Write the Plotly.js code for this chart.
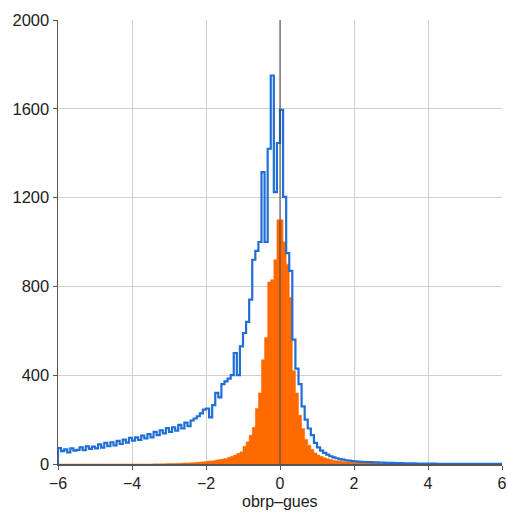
<!DOCTYPE html>
<html>
<head>
<meta charset="utf-8">
<script src="https://cdn.plot.ly/plotly-3.0.1.min.js"></script>
<style>html,body{margin:0;padding:0;background:#fff;}#chart{width:507px;height:512px;}</style>
</head>
<body>
<div id="chart"></div>
<script>
// Histogram bins: 12 bins per unit from -6 to 6
var binStart = -6;
var binsPerUnit = 12;

// Blue outline histogram (counts per bin), one row per unit interval
var blueCounts = [].concat(
  [72, 58, 66, 52, 70, 60, 64, 75, 62, 80, 68, 78],            // -6..-5
  [70, 88, 74, 95, 80, 98, 84, 104, 90, 110, 96, 118],          // -5..-4
  [105, 120, 108, 128, 115, 135, 120, 145, 130, 152, 138, 162], // -4..-3
  [145, 165, 150, 176, 160, 186, 170, 196, 205, 215, 228, 245], // -3..-2
  [250, 210, 265, 320, 300, 360, 372, 385, 400, 500, 400, 530], // -2..-1
  [590, 640, 740, 920, 960, 1000, 1315, 1000, 1420, 1750, 1225, 1446], // -1..0
  [1595, 1203, 950, 870, 560, 430, 360, 260, 200, 160, 130, 95], // 0..1
  [75, 60, 50, 42, 35, 30, 26, 22, 20, 17, 15, 13],             // 1..2
  [12, 11, 10, 9, 8, 8, 7, 7, 6, 6, 5, 5],                      // 2..3
  [5, 4, 4, 4, 3, 3, 3, 3, 2, 2, 2, 2],                         // 3..4
  [2, 2, 2, 1, 1, 1, 1, 1, 1, 1, 1, 1],                         // 4..5
  [1, 1, 1, 1, 1, 1, 1, 1, 1, 1, 1, 1]                          // 5..6
);

// Orange filled histogram (counts per bin)
var orangeCounts = [].concat(
  [0, 0, 0, 0, 0, 0, 0, 0, 0, 0, 0, 0],                         // -6..-5
  [0, 0, 0, 0, 0, 0, 0, 0, 0, 0, 0, 0],                         // -5..-4
  [0, 0, 0, 0, 0, 0, 0, 1, 1, 1, 1, 2],                         // -4..-3
  [2, 2, 3, 3, 4, 5, 5, 6, 7, 8, 9, 10],                        // -3..-2
  [12, 14, 15, 18, 20, 22, 25, 30, 35, 40, 48, 55],             // -2..-1
  [80, 100, 130, 165, 250, 320, 470, 570, 820, 830, 920, 1100], // -1..0
  [1100, 1000, 900, 750, 420, 320, 220, 160, 110, 85, 65, 50],  // 0..1
  [40, 34, 28, 24, 20, 17, 15, 13, 11, 10, 9, 8],               // 1..2
  [7, 6, 6, 5, 5, 4, 4, 4, 3, 3, 3, 3],                         // 2..3
  [3, 2, 2, 2, 2, 2, 1, 1, 1, 1, 1, 1],                         // 3..4
  [1, 1, 1, 1, 0, 0, 0, 0, 0, 0, 0, 0],                         // 4..5
  [0, 0, 0, 0, 0, 0, 0, 0, 0, 0, 0, 0]                          // 5..6
);

var xTickVals = [-6, -4, -2, 0, 2, 4, 6];
var yTickVals = [0, 400, 800, 1200, 1600, 2000];
var xTitle = "obrp\u2013gues";

var w = 1 / binsPerUnit;
var edges = [];
for (var i = 0; i <= blueCounts.length; i++) edges.push(binStart + i * w);

function stepY(counts) {
  return [0].concat(counts, [counts[counts.length - 1]]);
}
var stepX = [edges[0]].concat(edges);

var traces = [
  {
    type: "scatter", mode: "lines", x: stepX, y: stepY(orangeCounts),
    line: {shape: "hv", color: "#ff6a00", width: 0.5}, fill: "tozeroy", fillcolor: "#ff6a00",
    hoverinfo: "skip", showlegend: false
  },
  {
    type: "scatter", mode: "lines", x: stepX, y: stepY(blueCounts),
    line: {shape: "hv", color: "#1f6fd6", width: 2.2},
    hoverinfo: "skip", showlegend: false
  }
];

var fontFam = "Liberation Sans, Arial, Helvetica, sans-serif";
var layout = {
  width: 507, height: 512,
  margin: {l: 58, r: 5, t: 20, b: 48},
  paper_bgcolor: "#fff", plot_bgcolor: "#fff",
  font: {family: fontFam, size: 16, color: "#222"},
  xaxis: {
    range: [-6, 6], tickvals: xTickVals, ticks: "outside", ticklen: 4, tickcolor: "#555",
    showgrid: true, gridcolor: "#cfcfcf", gridwidth: 1, zeroline: false,
    showline: true, linecolor: "#555", linewidth: 1.5,
    tickfont: {size: 16, family: fontFam, color: "#222"}
  },
  yaxis: {
    range: [0, 2000], tickvals: yTickVals, ticks: "outside", ticklen: 4, tickcolor: "#555",
    showgrid: true, gridcolor: "#cfcfcf", gridwidth: 1, zeroline: false,
    showline: true, linecolor: "#555", linewidth: 1.5,
    tickfont: {size: 16.5, family: fontFam, color: "#222"}
  },
  annotations: [{
    text: xTitle, xref: "paper", yref: "paper", x: 0.5, y: 0, xanchor: "center", yanchor: "top",
    yshift: -27, showarrow: false, font: {size: 16, family: fontFam, color: "#222"}
  }],
  shapes: [{
    type: "line", xref: "x", yref: "paper", x0: 0, x1: 0, y0: 0, y1: 1,
    line: {color: "#444", width: 1}, layer: "above"
  }]
};

Plotly.newPlot("chart", traces, layout, {staticPlot: true, displayModeBar: false});
</script>
</body>
</html>
